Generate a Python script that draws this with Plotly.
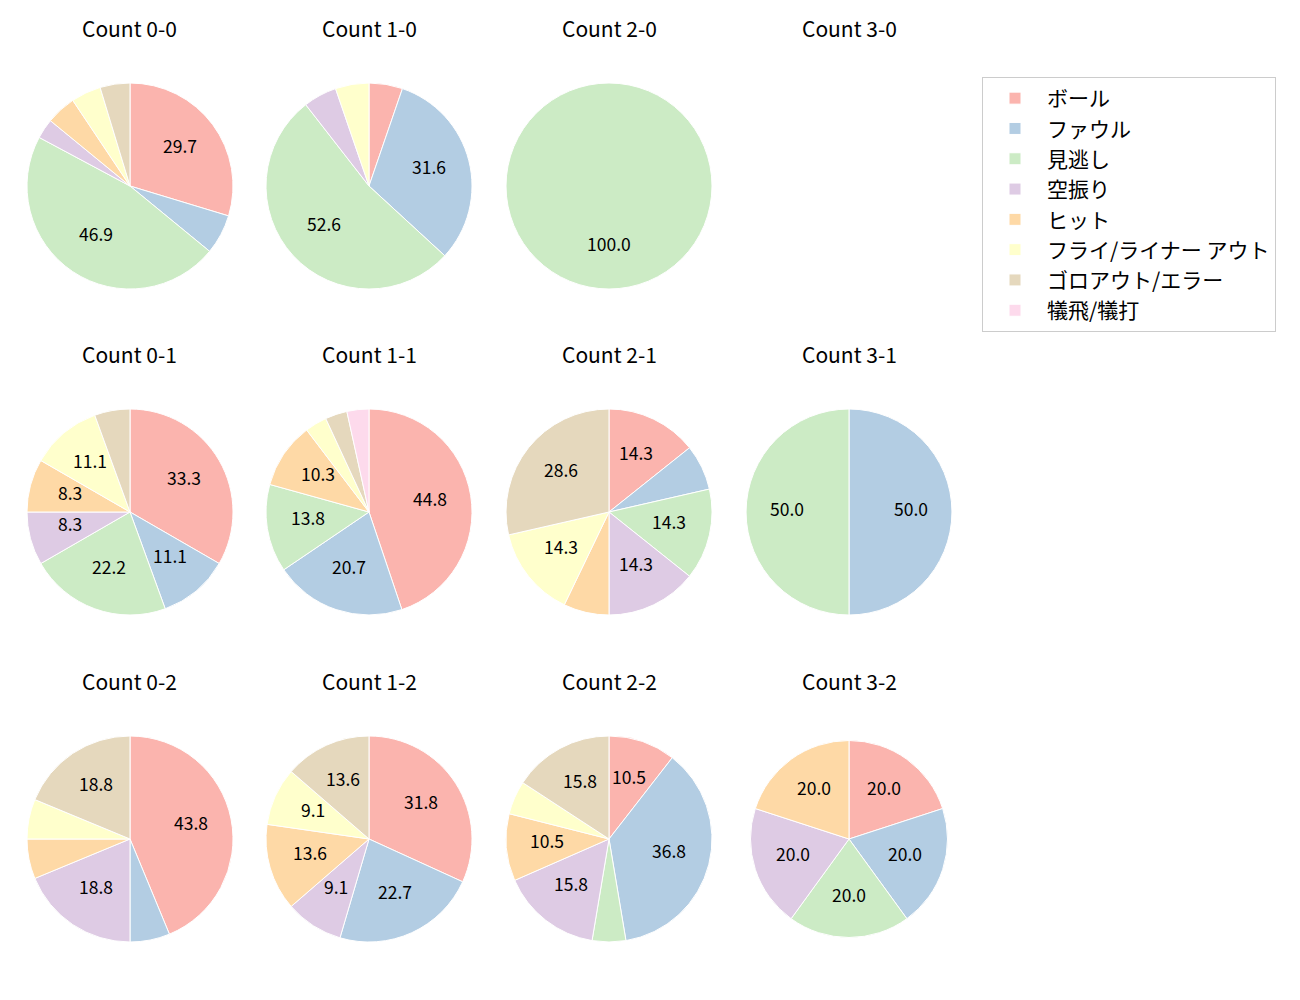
import math
import plotly.graph_objects as go

categories = ["ボール", "ファウル", "見逃し", "空振り", "ヒット",
              "フライ/ライナー アウト", "ゴロアウト/エラー", "犠飛/犠打"]
colors = ["#fbb4ae", "#b3cde3", "#ccebc5", "#decbe4", "#fed9a6",
          "#ffffcc", "#e5d8bd", "#fddaec"]

# pitch counts per ball-strike count (same order as categories)
count_00 = [19, 4, 30, 2, 3, 3, 3, 0]
count_10 = [1, 6, 10, 1, 0, 1, 0, 0]
count_20 = [0, 0, 1, 0, 0, 0, 0, 0]
count_30 = [0, 0, 0, 0, 0, 0, 0, 0]
count_01 = [12, 4, 8, 3, 3, 4, 2, 0]
count_11 = [13, 6, 4, 0, 3, 1, 1, 1]
count_21 = [2, 1, 2, 2, 1, 2, 4, 0]
count_31 = [0, 1, 1, 0, 0, 0, 0, 0]
count_02 = [7, 1, 0, 3, 1, 1, 3, 0]
count_12 = [7, 5, 0, 2, 3, 2, 3, 0]
count_22 = [2, 7, 1, 3, 2, 1, 3, 0]
count_32 = [1, 1, 1, 1, 1, 0, 0, 0]

titles = ["Count 0-0", "Count 1-0", "Count 2-0", "Count 3-0",
          "Count 0-1", "Count 1-1", "Count 2-1", "Count 3-1",
          "Count 0-2", "Count 1-2", "Count 2-2", "Count 3-2"]
series = [count_00, count_10, count_20, count_30,
          count_01, count_11, count_21, count_31,
          count_02, count_12, count_22, count_32]

OFF = 8  # page body margin
W, H = 1300 - OFF, 1000 - OFF
col_x = [130, 369, 609, 849]
row_y = [186, 512, 839]
radius = [103] * 11 + [98.5]
title_dy = 158
label_dy = 4
FONT = "Noto Sans CJK JP"


def px_x(p):
    return (p - OFF) / W


def px_y(p):
    return 1 - (p - OFF) / H


fig = go.Figure()
annotations = []
for i, (title, vals) in enumerate(zip(titles, series)):
    cx = col_x[i % 4]
    cy = row_y[i // 4]
    r = radius[i]
    annotations.append(dict(text=title, x=px_x(cx), y=px_y(cy - title_dy),
                            xref="paper", yref="paper", showarrow=False,
                            xanchor="center", yanchor="middle",
                            font=dict(family=FONT, size=21, color="#000")))
    total = sum(vals)
    if total == 0:
        continue
    labs = [c for c, v in zip(categories, vals) if v > 0]
    vs = [v for v in vals if v > 0]
    cols = [colors[k] for k, v in enumerate(vals) if v > 0]
    fig.add_trace(go.Pie(
        labels=labs, values=vs, sort=False, direction="clockwise", rotation=0,
        marker=dict(colors=cols, line=dict(color="white", width=1)),
        textinfo="none", hoverinfo="label+percent",
        domain=dict(x=[px_x(cx - r), px_x(cx + r)],
                    y=[px_y(cy + r), px_y(cy - r)]),
    ))
    # percentage labels at 0.6 radius (matplotlib-like autopct)
    cum = 0
    for v in vs:
        pct = v / total * 100
        mid = (cum + v / 2) / total * 2 * math.pi
        cum += v
        if pct < 8:
            continue
        lx = cx + 0.6 * r * math.sin(mid)
        ly = cy - 0.6 * r * math.cos(mid) - label_dy
        annotations.append(dict(text=f"{pct:.1f}", x=px_x(lx), y=px_y(ly),
                                xref="paper", yref="paper", showarrow=False,
                                xanchor="center", yanchor="middle",
                                font=dict(family=FONT, size=17.5, color="#000")))

fig.update_layout(
    width=W, height=H,
    margin=dict(l=0, r=0, t=0, b=0),
    paper_bgcolor="white", plot_bgcolor="white",
    annotations=annotations,
    showlegend=True,
    legend=dict(x=px_x(982), y=px_y(77), xanchor="left", yanchor="top",
                bordercolor="#cccccc", borderwidth=1, bgcolor="white",
                font=dict(family=FONT, size=21, color="#000"),
                itemwidth=54, tracegroupgap=0),
    font=dict(family=FONT),
)
fig.write_html("out.html")
